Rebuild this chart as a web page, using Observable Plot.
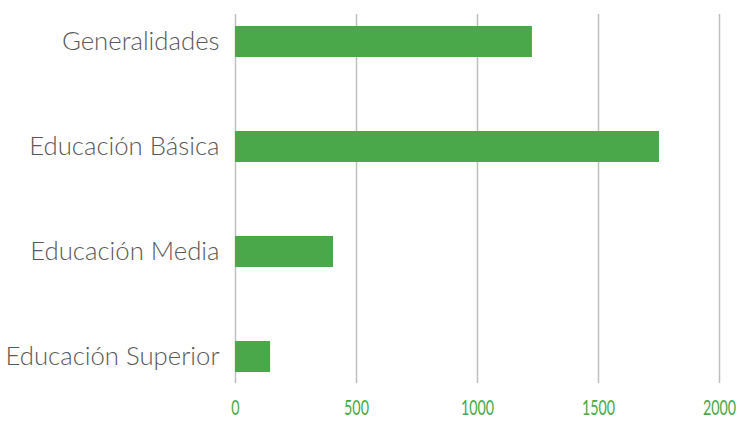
<!DOCTYPE html>
<html>
<head>
<meta charset="utf-8">
<script src="https://cdn.jsdelivr.net/npm/d3@7"></script>
<script src="https://cdn.jsdelivr.net/npm/@observablehq/plot@0.6"></script>
<style>
  html, body { margin: 0; padding: 0; background: #fff; }
  .y-axis text { font-family: Lato, "Open Sans", sans-serif; font-weight: 300; }
  .x-axis text { font-family: Lato, "Open Sans", sans-serif; font-weight: 400; }
</style>
</head>
<body>
<div id="chart"></div>
<script>
const categories = ["Generalidades", "Educación Básica", "Educación Media", "Educación Superior"];
const values = [1227, 1752, 405, 145];
const xTicks = [0, 500, 1000, 1500, 2000];

const data = categories.map((c, i) => ({category: c, value: values[i]}));

const chart = Plot.plot({
  width: 753,
  height: 434,
  marginLeft: 235,
  marginRight: 34,
  marginTop: 14,
  marginBottom: 51,
  style: {background: "#fff"},
  x: {domain: [0, 2000], ticks: xTicks},
  y: {domain: categories, paddingInner: 0.707, paddingOuter: 0.099},
  marks: [
    Plot.ruleX(xTicks, {stroke: "#bfbfbf", strokeWidth: 1.5, strokeOpacity: 1}),
    Plot.barX(data, {x: "value", y: "category", fill: "#4aa84a"}),
    Plot.axisX({ticks: xTicks, tickFormat: d => String(d), tickSize: 0, tickPadding: 17, fontSize: 21, color: "#4aa84a", className: "x-axis", label: null}),
    Plot.axisY({tickSize: 0, tickPadding: 16, fontSize: 25, color: "#595959", className: "y-axis", label: null})
  ]
});
document.getElementById("chart").appendChild(chart);

function squeeze(selector, sx, anchor) {
  chart.querySelectorAll(selector).forEach(t => {
    const b = t.getBBox();
    const ax = anchor === "middle" ? b.x + b.width / 2 : b.x + b.width;
    const tr = t.getAttribute("transform") || "";
    t.setAttribute("transform", `${tr} translate(${ax},0) scale(${sx},1) translate(${-ax},0)`);
  });
}
squeeze(".x-axis text", 0.68, "middle");
squeeze(".y-axis text", 1.03, "end");
</script>
</body>
</html>
